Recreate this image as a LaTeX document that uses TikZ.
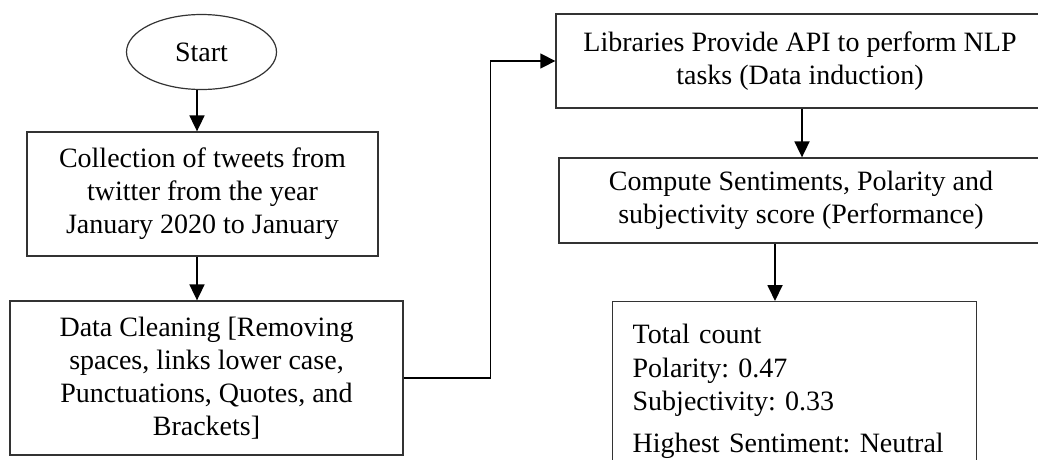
\documentclass[tikz,border=0pt]{standalone}
\usepackage{fontspec}
\setmainfont{Liberation Serif}
\usepackage{tikz}
\usetikzlibrary{arrows.meta,shapes.geometric,calc}
\frenchspacing

\begin{document}
\begin{tikzpicture}[
  x=1pt,y=-1pt,
  font=\fontsize{28}{33}\selectfont,
  term/.style ={ellipse,draw=black!80,line width=1.2pt,inner sep=0pt,
                minimum width=150pt,minimum height=75pt},
  box/.style  ={rectangle,draw=black!80,line width=1.3pt,align=center,inner sep=0pt},
  lbox/.style ={rectangle,draw=black!80,line width=1.3pt,align=left,
                inner xsep=20pt,inner ysep=20pt,text width=324pt,anchor=north west},
  arrow/.style={-{Triangle[width=15pt,length=16pt]},line width=1.8pt},
  link/.style ={-{Triangle[width=15pt,length=15pt]},line width=1.4pt},
]
\useasboundingbox (0,0) rectangle (1038,459);
\clip (0,0) rectangle (1038,459);
% left column
\node[term] (start) at (201.5,52) {Start};
\node[box,minimum width=351pt,minimum height=124pt] (coll) at (202.5,194)
  {Collection of tweets from\\twitter from the year\\January 2020 to January};
\node[box,minimum width=393pt,minimum height=154pt] (clean) at (206.5,378)
  {Data Cleaning [Removing\\spaces, links lower case,\\Punctuations, Quotes, and\\Brackets]};
% right column
\node[box,minimum width=488pt,minimum height=94pt] (libs) at (800,61)
  {Libraries Provide API to perform NLP\\tasks (Data induction)};
\node[box,minimum width=484pt,minimum height=85pt] (comp) at (801,200.5)
  {Compute Sentiments, Polarity and\\subjectivity score (Performance)};
\node[lbox,minimum height=180pt] (total) at (612,301)
  {\fontsize{28}{33.5}\selectfont Total count\\Polarity: 0.47\\Subjectivity: 0.33\\[9pt]Highest Sentiment: Neutral};
% connectors
\draw[arrow] ([xshift=-4.5pt]start.south) -- ([xshift=-4.5pt]start.south |- coll.north);
\draw[arrow] ([xshift=-5.5pt]coll.south) -- ([xshift=-5.5pt]coll.south |- clean.north);
\draw[link] (clean.east) -- ++(87,0) |- (libs.west);
\draw[arrow] ([xshift=2pt]libs.south) -- ([xshift=2pt]libs.south |- comp.north);
\draw[arrow] ([xshift=-26pt]comp.south) -- ([xshift=-26pt]comp.south |- total.north);
\end{tikzpicture}
\end{document}
